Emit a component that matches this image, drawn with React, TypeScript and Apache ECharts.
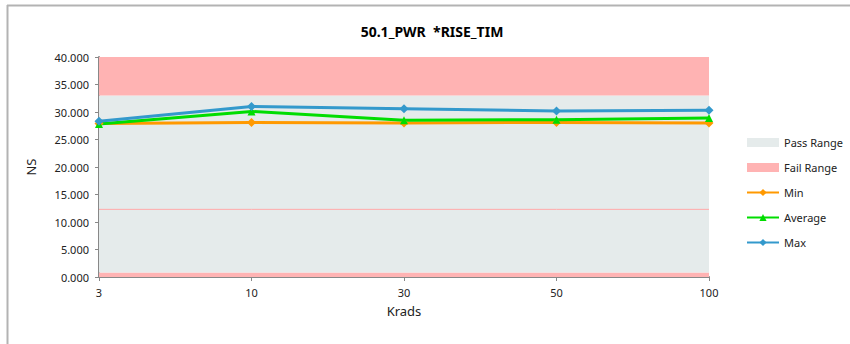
import React, { useEffect, useRef } from "react";
import * as echarts from "echarts";

const categories = ["3", "10", "30", "50", "100"];
const minValues = [27.9, 28.1, 28.0, 28.1, 28.0];
const avgValues = [27.8, 30.1, 28.5, 28.6, 28.9];
const maxValues = [28.3, 31.0, 30.6, 30.2, 30.3];
const failLowBand = [0.8, 0.8, 0.8, 0.8, 0.8];
const passLowerBand = [11.5, 11.5, 11.5, 11.5, 11.5];
const passUpperBand = [20.7, 20.7, 20.7, 20.7, 20.7];
const failHighBand = [7, 7, 7, 7, 7];
const yTicks = [0, 5, 10, 15, 20, 25, 30, 35, 40];

const FONT = "'Noto Sans', 'Open Sans', sans-serif";
const PASS = "#E5EBEB";
const FAIL = "#FFB3B3";

export default function App() {
  const ref = useRef<HTMLDivElement>(null);
  useEffect(() => {
    if (!ref.current) return;
    const chart = echarts.init(ref.current, null, { renderer: "svg" });
    const band = (name: string, data: number[], color: string, lineColor?: string) => ({
      name,
      type: "line",
      stack: "ranges",
      data,
      symbol: "none",
      showSymbol: false,
      silent: true,
      lineStyle: { width: lineColor ? 1 : 0, color: lineColor || color },
      itemStyle: { color },
      areaStyle: { color, opacity: 1 },
      z: lineColor ? 2 : 1,
    });
    const line = (name: string, data: number[], color: string, symbol: string) => ({
      name,
      type: "line",
      data,
      symbol,
      symbolSize: symbol === "triangle" ? 8 : 9,
      lineStyle: { width: 3, color },
      itemStyle: { color },
      z: 3,
    });
    chart.setOption({
      animation: false,
      backgroundColor: "#ffffff",
      title: {
        text: "50.1_PWR  *RISE_TIM",
        left: 427,
        textAlign: "center",
        top: 19,
        textStyle: { fontFamily: FONT, fontSize: 14, fontWeight: "bold", color: "#000" },
      },
      graphic: [
        { type: "line", shape: { x1: 7, y1: 5.5, x2: 850, y2: 5.5 }, style: { stroke: "#b3b3b3", lineWidth: 2 } },
        { type: "line", shape: { x1: 7.5, y1: 5, x2: 7.5, y2: 344 }, style: { stroke: "#b3b3b3", lineWidth: 2 } },
      ],
      grid: { left: 99, right: 141, top: 57, bottom: 67, containLabel: false },
      legend: {
        orient: "vertical",
        left: 741,
        top: 132,
        itemGap: 14,
        itemWidth: 32,
        itemHeight: 9,
        textStyle: { fontFamily: FONT, fontSize: 11, color: "#222" },
        data: [
          { name: "Pass Range", icon: "rect", itemStyle: { color: PASS } },
          { name: "Fail Range", icon: "rect", itemStyle: { color: FAIL } },
          { name: "Min" },
          { name: "Average" },
          { name: "Max" },
        ],
      },
      xAxis: {
        type: "category",
        data: categories,
        boundaryGap: false,
        name: "Krads",
        nameLocation: "middle",
        nameGap: 27,
        nameTextStyle: { fontFamily: FONT, fontSize: 13, color: "#222" },
        axisLine: { lineStyle: { color: "#888", width: 2 } },
        axisTick: { show: true, length: 4, lineStyle: { color: "#888" } },
        axisLabel: { fontFamily: FONT, fontSize: 11, color: "#222", margin: 10 },
        splitLine: { show: false },
      },
      yAxis: {
        type: "value",
        min: yTicks[0],
        max: yTicks[yTicks.length - 1],
        interval: 5,
        name: "NS",
        nameLocation: "middle",
        nameGap: 62,
        nameTextStyle: { fontFamily: FONT, fontSize: 13, color: "#222" },
        axisLine: { show: true, lineStyle: { color: "#888", width: 2 } },
        axisTick: { show: true, length: 4, lineStyle: { color: "#888" } },
        axisLabel: {
          fontFamily: FONT,
          fontSize: 11,
          color: "#222",
          margin: 10,
          formatter: (v: number) => v.toFixed(3),
        },
        splitLine: { show: false },
      },
      series: [
        band("Fail Range", failLowBand, FAIL),
        band("Pass Range", passLowerBand, PASS, "#FFA8A8"),
        band("Pass Range", passUpperBand, PASS),
        band("Fail Range", failHighBand, FAIL),
        line("Min", minValues, "#FF9900", "diamond"),
        line("Average", avgValues, "#00DD00", "triangle"),
        line("Max", maxValues, "#3399CC", "diamond"),
      ],
    });
    return () => chart.dispose();
  }, []);
  return (
    <div
      ref={ref}
      style={{ position: "fixed", left: 0, top: 0, width: 850, height: 344 }}
    />
  );
}
